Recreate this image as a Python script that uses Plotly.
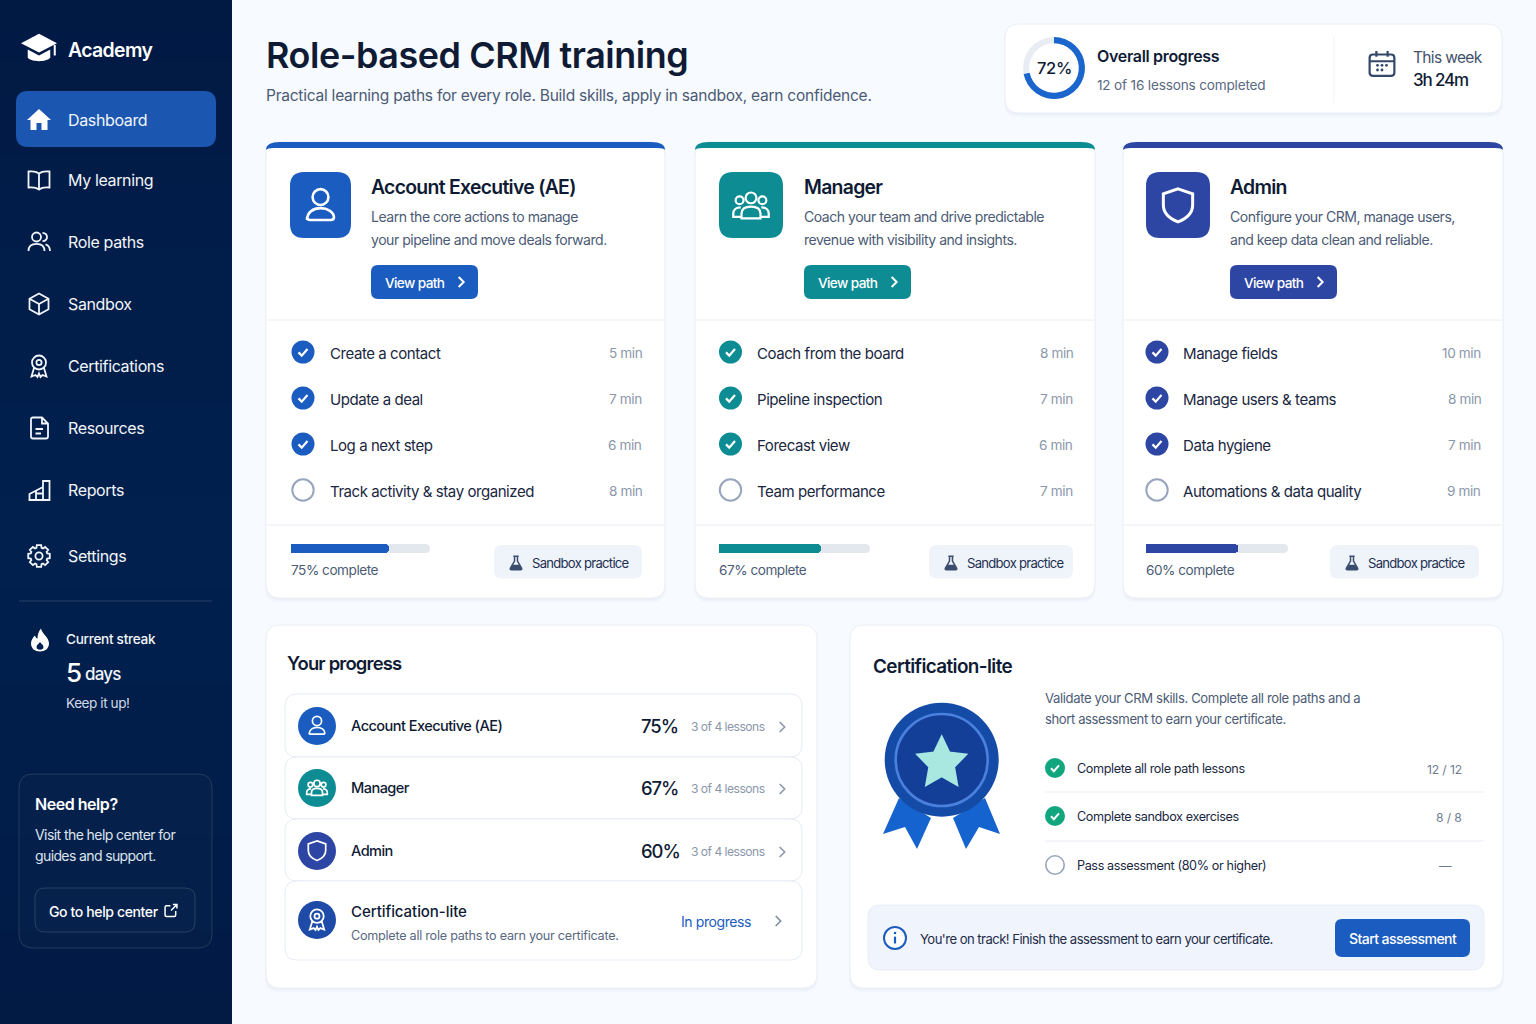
import re
import math
import plotly.graph_objects as go

# ---------- chart content ----------
nav_items = ["Dashboard", "My learning", "Role paths", "Sandbox", "Certifications", "Resources", "Reports", "Settings"]
roles = ["Account Executive (AE)", "Manager", "Admin"]
role_desc_first = ["Learn the core actions to manage", "Coach your team and drive predictable", "Configure your CRM, manage users,"]
role_desc_second = ["your pipeline and move deals forward.", "revenue with visibility and insights.", "and keep data clean and reliable."]
lessons_ae = ["Create a contact", "Update a deal", "Log a next step", "Track activity & stay organized"]
lessons_manager = ["Coach from the board", "Pipeline inspection", "Forecast view", "Team performance"]
lessons_admin = ["Manage fields", "Manage users & teams", "Data hygiene", "Automations & data quality"]
minutes_ae = [5, 7, 6, 8]
minutes_manager = [8, 7, 6, 7]
minutes_admin = [10, 8, 7, 9]
lessons_done = [3, 3, 3]
percent_complete = [75, 67, 60]
# share of each track that is filled in the picture
progress_fill = [70.5, 67.5, 65]
overall_done = 72
overall_left = 28
cert_steps = ["Complete all role path lessons", "Complete sandbox exercises", "Pass assessment (80% or higher)"]
cert_counts = ["12 / 12", "8 / 8", "—"]
cert_done = [True, True, False]

# ---------- palette ----------
FONT = "Inter"
INK = "#0F1B35"
BODY = "#1A2741"
MUTED = "#4C5B75"
FAINT = "#8B97AA"
LINE = "#E8EDF4"
BLUE, TEAL, INDIGO = "#1A5CBF", "#0E8C94", "#2D46A3"
role_colors = [BLUE, TEAL, INDIGO]
GREEN = "#12A67F"

shapes, notes = [], []


def rr(x0, y0, x1, y1, r):
    return (f"M{x0+r},{y0} L{x1-r},{y0} Q{x1},{y0} {x1},{y0+r} L{x1},{y1-r} Q{x1},{y1} {x1-r},{y1} "
            f"L{x0+r},{y1} Q{x0},{y1} {x0},{y1-r} L{x0},{y0+r} Q{x0},{y0} {x0+r},{y0} Z")


def path(d, fill="rgba(0,0,0,0)", line="rgba(0,0,0,0)", w=0):
    shapes.append(dict(type="path", path=d, xref="x", yref="y", layer="below", fillcolor=fill,
                       line=dict(color=line, width=w)))


def box(x0, y0, x1, y1, r, fill, line="rgba(0,0,0,0)", w=0):
    path(rr(x0, y0, x1, y1, r), fill, line, w)


def card(x0, y0, x1, y1, r=14):
    box(x0 - 1, y0 + 1, x1 + 1, y1 + 4, r, "rgba(30,60,110,0.025)")
    box(x0, y0 + 1, x1, y1 + 2, r, "rgba(30,60,110,0.03)")
    box(x0, y0, x1, y1, r, "#FFFFFF", "#EBF0F6", 1)


def disc(cx, cy, r, fill="rgba(0,0,0,0)", line="rgba(0,0,0,0)", w=0):
    shapes.append(dict(type="circle", xref="x", yref="y", layer="below", x0=cx - r, x1=cx + r, y0=cy - r, y1=cy + r,
                       fillcolor=fill, line=dict(color=line, width=w)))


def hline(x0, x1, y, color=LINE, w=1):
    shapes.append(dict(type="line", xref="x", yref="y", layer="below", x0=x0, x1=x1, y0=y, y1=y,
                       line=dict(color=color, width=w)))


def text(x, y, s, size=14, color=BODY, weight=400, anchor="left", track=-0.6):
    if track < 0:
        track = round(track + 0.22 * size / 15, 2)
        size = round(size * 0.97, 2)
    notes.append(dict(x=x, y=y, xref="x", yref="y", text=f'<span style="letter-spacing:{track}px">{s}</span>',
                      showarrow=False, xanchor=anchor, yanchor="middle",
                      align=anchor, borderpad=0, borderwidth=0,
                      font=dict(family=FONT, size=size, color=color, weight=weight)))


def cpath(cx, cy, r):
    k = 0.5523 * r
    return (f"M{cx-r} {cy} C{cx-r} {cy-k} {cx-k} {cy-r} {cx} {cy-r} C{cx+k} {cy-r} {cx+r} {cy-k} {cx+r} {cy} "
            f"C{cx+r} {cy+k} {cx+k} {cy+r} {cx} {cy+r} C{cx-k} {cy+r} {cx-r} {cy+k} {cx-r} {cy} Z ")


def icon(d, cx, cy, size, fill="rgba(0,0,0,0)", line="rgba(0,0,0,0)", w=0):
    """Place a path drawn in a 24x24 box so that its centre sits at (cx, cy)."""
    s = size / 24
    out = []
    for cmd, body in re.findall(r"([MLCQZ])([^MLCQZ]*)", d):
        nums = [float(n) for n in re.findall(r"-?\d+\.?\d*", body)]
        pts = [f"{cx+(nums[i]-12)*s:.2f},{cy+(nums[i+1]-12)*s:.2f}" for i in range(0, len(nums), 2)]
        out.append(cmd + " ".join(pts))
    path(" ".join(out), fill, line, w)


def gear():
    pts = []
    for i in range(8):
        a = i * math.pi / 4
        for da, r in [(-0.30, 8.6), (-0.20, 11), (0.20, 11), (0.30, 8.6)]:
            pts.append((12 + r * math.cos(a + da), 12 + r * math.sin(a + da)))
    return "M" + " L".join(f"{x:.2f} {y:.2f}" for x, y in pts) + " Z"


ICONS = dict(
    cap_top="M12 2.5 L24 8.8 L12 15 L0 8.8 Z",
    cap_bowl="M4.5 13 L12 17 L19.5 13 L19.5 18.5 C17 21.5 7 21.5 4.5 18.5 Z",
    home="M12 2 L24 13 L20.5 13 L20.5 23 L14.5 23 L14.5 16 L9.5 16 L9.5 23 L3.5 23 L3.5 13 L0 13 Z",
    book="M12 5.5 C9.5 3.5 6 3 1.5 3.5 L1.5 19.5 C6 19 9.5 19.5 12 21.5 C14.5 19.5 18 19 22.5 19.5 L22.5 3.5 C18 3 14.5 3.5 12 5.5 Z M12 5.5 L12 21.5",
    users=cpath(9.5, 7, 4.5) + "M1.5 21 C1.5 16 5 13.8 9.5 13.8 C14 13.8 17.5 16 17.5 21 M15.5 2.8 C18.2 3 20 4.8 20 7 C20 9.2 18.2 11 15.5 11.2 M18.5 14.4 C21 15.2 23 17.4 23 21",
    cube="M12 1.5 L21.5 6.8 L21.5 17.2 L12 22.5 L2.5 17.2 L2.5 6.8 Z M2.5 6.8 L12 12 L21.5 6.8 M12 12 L12 22.5",
    cert=cpath(12, 8.5, 7) + cpath(12, 8.5, 2.6) + "M7 14 L4.5 22.5 L8.5 21 L10.5 23 L12 19.5 L13.5 23 L15.5 21 L19.5 22.5 L17 14",
    doc="M6 1.5 L15 1.5 L21 7.5 L21 20.5 Q21 22.5 19 22.5 L6 22.5 Q4 22.5 4 20.5 L4 3.5 Q4 1.5 6 1.5 Z M15 1.5 L15 7.5 L21 7.5 M8.5 13 L16 13 M8.5 17.5 L14 17.5",
    reports="M1.5 22 L22.5 22 L22.5 3 L16 3 L16 9 L2.5 16 L2.5 22 M9 22 L9 13 M16 9 L16 22 M9 15.5 L16 15.5",
    gear=gear() + " " + cpath(12, 12, 3.6),
    flame="M13 0.5 C14 6 21 9 21 15.5 C21 20.5 17 23.5 12 23.5 C7 23.5 3 20.5 3 15.5 C3 12 5 9.5 7 7.5 C7.5 9.5 8.5 10.5 9.5 10.5 C9.5 7 10.5 3.5 13 0.5 Z",
    drop="M12 14 C13.5 16 15.5 17.3 15.5 19 C15.5 20.8 14 21.7 12 21.7 C10 21.7 8.5 20.8 8.5 19 C8.5 17.3 10.5 16 12 14 Z",
    link="M11 4.5 L5 4.5 Q2.5 4.5 2.5 7 L2.5 19 Q2.5 21.5 5 21.5 L17 21.5 Q19.5 21.5 19.5 19 L19.5 13 M12 12 L21.5 2.5 M15 2.5 L21.5 2.5 L21.5 9",
    person=cpath(12, 7, 5) + "M3.5 21.5 C3.5 16.5 7.5 14 12 14 C16.5 14 20.5 16.5 20.5 19.8 Q20.5 21.5 18.5 21.5 L5.5 21.5 Q3.5 21.5 3.5 19.8 Z",
    team=cpath(12, 7.5, 3.4) + cpath(4.8, 9, 2.5) + cpath(19.2, 9, 2.5)
    + "M6 20.5 L6 17.5 C6 14.5 8.5 13 12 13 C15.5 13 18 14.5 18 17.5 L18 20.5 Z M5.5 13.5 C2.5 13.5 0.8 15.2 0.8 17.5 L0.8 19.5 L6 19.5 M18.5 13.5 C21.5 13.5 23.2 15.2 23.2 17.5 L23.2 19.5 L18 19.5",
    shield="M12 1.5 L21.5 4.8 L21.5 12 C21.5 17.2 17.5 20.8 12 23 C6.5 20.8 2.5 17.2 2.5 12 L2.5 4.8 Z",
    chevron="M8.5 4.5 L16 12 L8.5 19.5",
    check="M6 12.5 L10.3 16.8 L18 8",
    flask="M8 2 L16 2 M9.8 2 L9.8 9 L3.5 20 Q2.8 22 5 22 L19 22 Q21.2 22 20.5 20 L14.2 9 L14.2 2",
    liquid="M7 14.5 L17 14.5 L20 20 Q20.6 22 19 22 L5 22 Q3.4 22 4 20 Z",
    calendar="M4 4 L20 4 Q23 4 23 7 L23 20 Q23 23 20 23 L4 23 Q1 23 1 20 L1 7 Q1 4 4 4 Z M1 10 L23 10 M7 1 L7 6 M17 1 L17 6",
    star="M12 0.5 L15.6 8 L23.5 9 L17.8 14.8 L19.3 23.3 L12 19.2 L4.7 23.3 L6.2 14.8 L0.5 9 L8.4 8 Z",
)


# ---------- background and sidebar ----------
SIDE = 232
for i in range(34):
    f = 1 - abs(i - 17) / 17
    g, b = 26 + 6 * f, 68 + 10 * f
    shapes.append(dict(type="rect", xref="x", yref="y", layer="below", x0=0, x1=SIDE, y0=i * 31, y1=(i + 1) * 31 + 1,
                       fillcolor=f"rgb(1,{g:.0f},{b:.0f})", line=dict(width=0)))

icon(ICONS["cap_top"], 39, 48, 36, "#FFFFFF")
icon(ICONS["cap_bowl"], 39, 48, 36, "#FFFFFF")
icon("M22.5 10 L22.5 17", 39, 48, 36, line="#FFFFFF", w=2)
text(68, 49.5, "Academy", 20, "#FFFFFF", 600, track=-0.9)
box(16, 91, 216, 147, 12, "#1B57B0")

nav_y = [120, 180, 242, 304, 366, 428, 490, 556]
nav_icon = ["home", "book", "users", "cube", "cert", "doc", "reports", "gear"]
for name, y, ic in zip(nav_items, nav_y, nav_icon):
    text(68, y, name, 16.5, "#F2F5FA", track=-0.6)
    if ic == "home":
        icon(ICONS[ic], 39, y - 1, 24, "#FFFFFF")
    else:
        icon(ICONS[ic], 39, y, 24, line="#F2F5FA", w=1.8)

hline(19, 212, 601, "rgba(255,255,255,0.15)")
icon(ICONS["flame"], 40, 640, 24, "#FFFFFF")
icon(ICONS["drop"], 40, 640, 24, "#03224F")
text(66, 639, "Current streak", 14, "#F2F5FA", 500, track=-0.5)
text(66, 672, "5", 26, "#FFFFFF", 500, track=0)
text(85, 674, "days", 17.5, "#F2F5FA", 500, track=-1)
text(66, 703, "Keep it up!", 14, "#D2DAE8", track=-0.65)

box(19, 774, 212, 948, 14, "rgba(255,255,255,0.015)", "rgba(255,255,255,0.13)", 1)
text(35, 804, "Need help?", 16.5, "#FFFFFF", 600, track=-0.7)
text(35, 834, "Visit the help center for", 14.5, "#DCE3EE", track=-0.8)
text(35, 855, "guides and support.", 14.5, "#DCE3EE", track=-0.85)
box(35, 888, 195, 932, 10, "rgba(255,255,255,0.01)", "rgba(255,255,255,0.15)", 1)
text(49, 911, "Go to help center", 14.5, "#FFFFFF", 500, track=-0.6)
icon(ICONS["link"], 171, 910.5, 15, line="#FFFFFF", w=1.5)

# ---------- header ----------
text(266, 54.5, "Role-based CRM training", 37, INK, 600, track=-0.96)
text(266, 95, "Practical learning paths for every role. Build skills, apply in sandbox, earn confidence.", 16, MUTED, track=-0.47)
card(1005, 24, 1502, 113, 14)
shapes.append(dict(type="line", xref="x", yref="y", layer="below", x0=1334, x1=1334, y0=37, y1=103,
                   line=dict(color="#EEF2F7", width=1)))
text(1054, 68, f"{overall_done}%", 17, INK, 500, "center", track=-0.6)
text(1097, 56, "Overall progress", 16.5, INK, 600, track=-0.56)
text(1097, 85, "12 of 16 lessons completed", 14, "#5A6982", track=-0.38)
icon(ICONS["calendar"], 1382, 63.5, 27, line="#34486A", w=2.2)
for dx, dy in [(-4.5, 1.8), (0, 1.8), (4.5, 1.8), (-4.5, 6.5), (0, 6.5)]:
    disc(1382 + dx, 63.5 + dy, 1.4, "#34486A")
text(1413, 57, "This week", 16, "#43526C", track=-0.9)
text(1413, 80, "3h 24m", 17.5, INK, 500, track=-1.4)

# ---------- role cards ----------
card_x = [(266, 665), (695, 1095), (1123, 1503)]
tile_x = [(290, 351), (719, 783), (1146, 1210)]
body_x = [371, 804, 1230]
check_x = [303, 730.5, 1157]
lesson_x = [330, 757, 1183]
minute_x = [642, 1073, 1481]
track_x = [(291, 430), (719, 870), (1146, 1288)]
sandbox_x = [(494, 642), (929, 1073), (1330, 1479)]
lesson_y = [353, 399, 445, 491]
role_icons = ["person", "team", "shield"]
all_lessons = [lessons_ae, lessons_manager, lessons_admin]
all_minutes = [minutes_ae, minutes_manager, minutes_admin]

for k, role in enumerate(roles):
    x0, x1 = card_x[k]
    col = role_colors[k]
    card(x0, 142, x1, 598)
    path(f"M{x0},150 Q{x0},142 {x0+14},142 L{x1-14},142 Q{x1},142 {x1},150 Q{x1-1},148 {x1-8},148 "
         f"L{x0+8},148 Q{x0+1},148 {x0},150 Z", col)
    hline(x0 + 1, x1 - 1, 320)
    hline(x0 + 1, x1 - 1, 525)
    tx0, tx1 = tile_x[k]
    box(tx0, 172, tx1, 238, 14, col)
    cx = (tx0 + tx1) / 2
    if role_icons[k] == "shield":
        icon(ICONS["shield"], cx, 205, 37, line="#FFFFFF", w=3)
    elif role_icons[k] == "team":
        icon(ICONS["team"], cx, 205, 38, line="#FFFFFF", w=2.2)
    else:
        icon(ICONS["person"], cx, 205, 38, line="#FFFFFF", w=2.6)
    bx = body_x[k]
    text(bx, 186.5, role, 20, INK, 600, track=-1)
    text(bx, 216.6, role_desc_first[k], 14.5, MUTED, track=-0.7)
    text(bx, 239.6, role_desc_second[k], 14.5, MUTED, track=-0.7)
    box(bx, 265, bx + 107, 299, 7, col)
    text(bx + 14, 282.5, "View path", 14, "#FFFFFF", 500, track=-0.8)
    icon(ICONS["chevron"], bx + 90, 282, 16, line="#FFFFFF", w=2)
    for j, (les, mins, y) in enumerate(zip(all_lessons[k], all_minutes[k], lesson_y)):
        if j < lessons_done[k]:
            disc(check_x[k], y - 1, 11.5, col)
            icon(ICONS["check"], check_x[k], y - 1, 18, line="#FFFFFF", w=2.2)
        else:
            disc(check_x[k], y - 1, 10.7, "#FFFFFF", "#97A5BD", 2)
        text(lesson_x[k], y, les, 15.5, BODY, track=-0.68)
        text(minute_x[k], y, f"{mins} min", 14, FAINT, 400, "right", track=-0.6)
    tr0, tr1 = track_x[k]
    box(tr0, 544, tr1, 553, 4.5, "#E3E8EF")
    text(tr0, 569.5, f"{percent_complete[k]}% complete", 14, MUTED, track=-0.67)
    sx0, sx1 = sandbox_x[k]
    box(sx0, 545, sx1, 578.5, 8, "#EFF4FB")
    icon(ICONS["flask"], sx0 + 22, 563, 16, line="#3B4D6E", w=1.5)
    icon(ICONS["liquid"], sx0 + 22, 563, 16, "#3B4D6E")
    text(sx0 + 38, 563, "Sandbox practice", 13.5, "#1E2F50", track=-0.93)

# ---------- your progress ----------
card(266, 625, 817, 988)
text(287, 663, "Your progress", 19, INK, 600, track=-1.1)
row_y = [(694, 757), (757, 819), (819, 881), (881, 960)]
row_mid = [726, 788, 851, 920]
row_fill = [BLUE, TEAL, INDIGO, "#1E4BA8"]
for (y0, y1) in row_y:
    box(285, y0, 802, y1, 12, "#FFFFFF", "#E6ECF5", 1)
for k, role in enumerate(roles):
    y = row_mid[k]
    disc(317, y, 19, row_fill[k])
    ic = role_icons[k]
    icon(ICONS[ic], 317, y - 0.5, 22, line="#FFFFFF", w=1.7)
    text(351, y, role, 15, INK, 500, track=-0.77)
    text(641, y, f"{percent_complete[k]}%", 19, INK, 500, track=-1.3)
    text(691, y + 0.6, f"{lessons_done[k]} of 4 lessons", 12.5, FAINT, track=-0.7)
    icon(ICONS["chevron"], 782, y + 1, 16, line="#8B97AA", w=1.6)
y = row_mid[3]
disc(317, y, 19, row_fill[3])
icon(ICONS["cert"], 317, y - 0.5, 23, line="#FFFFFF", w=1.8)
text(351, 911, "Certification-lite", 15.5, INK, 500, track=-0.3)
text(351, 935, "Complete all role paths to earn your certificate.", 13, "#58677F", track=-0.44)
text(681, 921.5, "In progress", 14.5, BLUE, track=-0.64)
icon(ICONS["chevron"], 778, 921, 16, line="#7E8BA0", w=1.6)

# ---------- certification-lite ----------
card(850, 625, 1503, 988)
text(873, 666, "Certification-lite", 19.5, INK, 600, track=-0.9)
text(1045, 698, "Validate your CRM skills. Complete all role paths and a", 13.5, MUTED, track=-0.56)
text(1045, 719, "short assessment to earn your certificate.", 13.5, MUTED, track=-0.6)
path("M899,798 L883,834 L905,827 L917,849 L931,818 Z", "#1563CE")
path("M985,798 L1000,834 L979,827 L966,849 L953,818 Z", "#1563CE")
disc(941.7, 759.7, 57, "#134BA6")
disc(941.7, 760, 46, "#143F98", "#4A80DE", 2.6)
icon(ICONS["star"], 941.7, 761, 50, "#A9E8E1", "#A9E8E1", 2.5)
step_y = [768, 816, 865]
for s, c, done, y in zip(cert_steps, cert_counts, cert_done, step_y):
    if done:
        disc(1055, y, 10, GREEN)
        icon(ICONS["check"], 1055, y, 16, line="#FFFFFF", w=2)
        text(1462, y + 1, c, 12.5, "#6E7C92", 400, "right", track=-0.3)
    else:
        disc(1055, y, 9.2, "#FFFFFF", "#97A5BD", 1.6)
        text(1452, y, c, 12.5, "#6E7C92", 400, "right", track=0)
    text(1077, y + 0.5, s, 13, BODY, track=-0.57)
hline(1045, 1484, 792)
hline(1045, 1484, 841)
box(868, 905, 1484, 970, 12, "#F0F4FC", "#E8EEF8", 1)
disc(895, 938, 11, "#FFFFFF", BLUE, 2)
disc(895, 933, 1.3, BLUE)
icon("M12 10.5 L12 18", 895, 938, 22, line=BLUE, w=2.2)
text(920, 939, "You're on track! Finish the assessment to earn your certificate.", 13.5, "#1E2C49", track=-0.73)
box(1335, 919, 1470, 957, 7, BLUE)
text(1403, 938.5, "Start assessment", 14.5, "#FFFFFF", 500, "center", track=-0.8)

# ---------- marks drawn from data ----------
W, H = 1536, 1024
fig = go.Figure()
layout_axes = {}
for k in range(3):
    n = k + 2
    fig.add_trace(go.Bar(x=[progress_fill[k]], y=[roles[k]], orientation="h", xaxis=f"x{n}", yaxis=f"y{n}",
                         marker=dict(color=role_colors[k], line=dict(width=0), cornerradius=4.5),
                         hoverinfo="skip", showlegend=False))
    layout_axes[f"xaxis{n}"] = dict(domain=[track_x[k][0] / W, track_x[k][1] / W], range=[0, 100], visible=False,
                                    anchor=f"y{n}", fixedrange=True)
    layout_axes[f"yaxis{n}"] = dict(domain=[1 - 553 / H, 1 - 544 / H], visible=False, anchor=f"x{n}", fixedrange=True)

fig.add_trace(go.Pie(values=[overall_done, overall_left], labels=["Completed", "Remaining"], sort=False,
                     direction="clockwise", rotation=0, hole=0.8, textinfo="none", hoverinfo="skip", showlegend=False,
                     marker=dict(colors=["#1A66CC", "#E9EDF3"], line=dict(width=0)),
                     domain=dict(x=[(1054 - 31) / W, (1054 + 31) / W], y=[1 - 99 / H, 1 - 37 / H])))

fig.update_layout(
    width=W, height=H, margin=dict(l=0, r=0, t=0, b=0), autosize=False,
    paper_bgcolor="#F7FAFE", plot_bgcolor="rgba(0,0,0,0)", showlegend=False,
    barmode="group", bargap=0,
    xaxis=dict(range=[0, W], domain=[0, 1], visible=False, fixedrange=True),
    yaxis=dict(range=[H, 0], domain=[0, 1], visible=False, fixedrange=True),
    shapes=shapes, annotations=notes, font=dict(family=FONT),
    **layout_axes,
)
fig.write_html("out.html", config=dict(displayModeBar=False, staticPlot=True),
               post_script="document.body.style.margin='0';document.body.style.overflow='hidden';")
